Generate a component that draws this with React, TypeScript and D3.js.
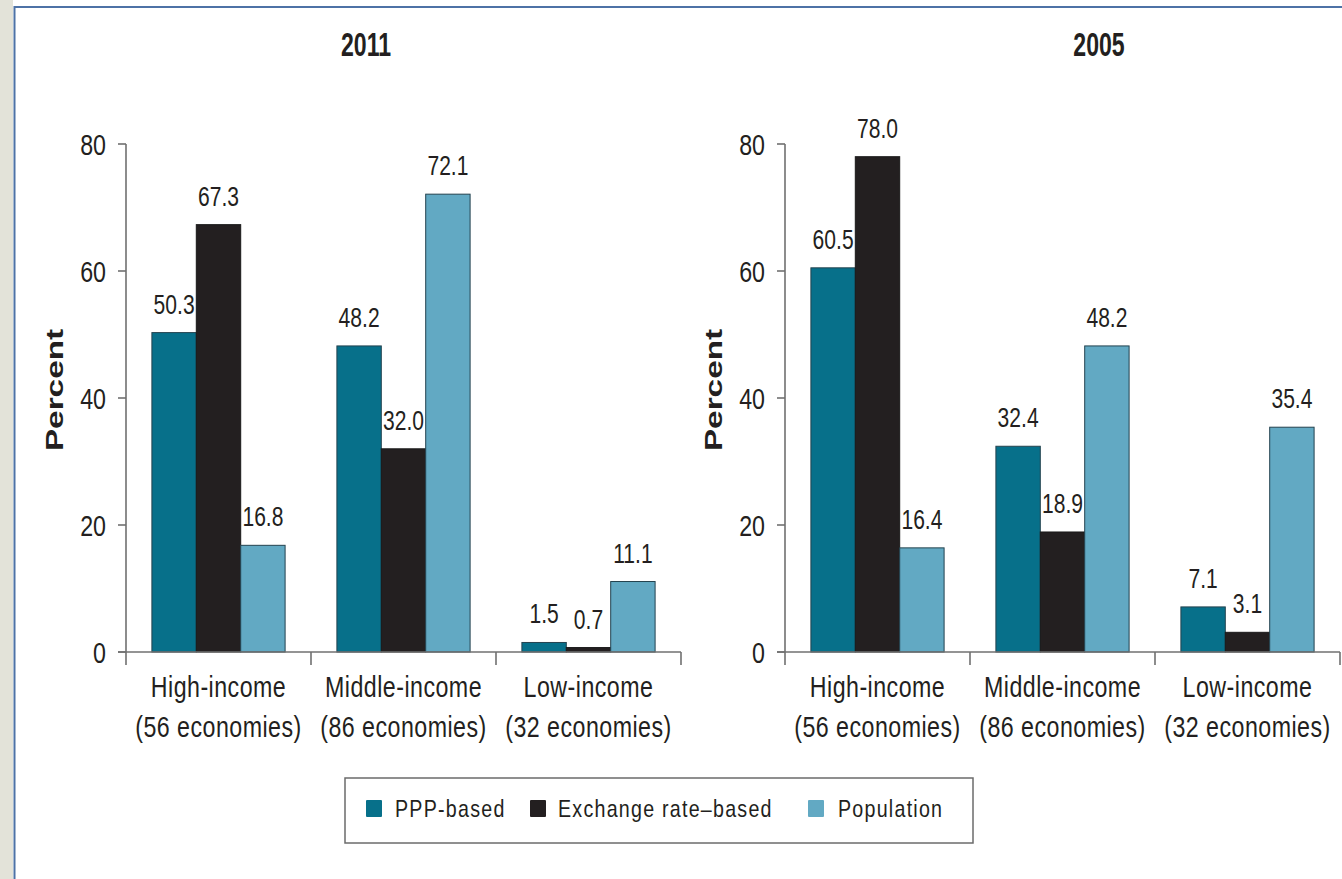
import React from "react";
import * as d3 from "d3";

const categories = ["High-income", "Middle-income", "Low-income"];
const categoryNotes = ["(56 economies)", "(86 economies)", "(32 economies)"];
const seriesNames = ["PPP-based", "Exchange rate–based", "Population"];
const ppp2011 = [50.3, 48.2, 1.5];
const exchange2011 = [67.3, 32.0, 0.7];
const population2011 = [16.8, 72.1, 11.1];
const ppp2005 = [60.5, 32.4, 7.1];
const exchange2005 = [78.0, 18.9, 3.1];
const population2005 = [16.4, 48.2, 35.4];
const yTicks = [0, 20, 40, 60, 80];
const panelTitles = ["2011", "2005"];
const yAxisTitle = "Percent";

const COLORS = ["#07708a", "#231f20", "#62a9c3"];
const FONT = "'Liberation Sans', Arial, sans-serif";
const W = 1342;
const H = 879;

type TProps = {
  x: number;
  y: number;
  size: number;
  sx?: number;
  weight?: string | number;
  anchor?: "start" | "middle" | "end";
  rotate?: number;
  fill?: string;
  ls?: number;
  children: React.ReactNode;
};

function T({ x, y, size, sx = 0.8, weight = "normal", anchor = "middle", rotate, fill = "#231f20", ls = 0, children }: TProps) {
  const tr = `translate(${x},${y})${rotate ? ` rotate(${rotate})` : ""} scale(${sx},1)`;
  return (
    <text
      transform={tr}
      fontFamily={FONT}
      fontSize={size}
      fontWeight={weight}
      textAnchor={anchor}
      fill={fill}
      letterSpacing={ls}
    >
      {children}
    </text>
  );
}

type PanelProps = {
  title: string;
  titleX: number;
  axisX: number;
  labelX: number;
  series: number[][];
};

function Panel({ title, titleX, axisX, labelX, series }: PanelProps) {
  const plotW = 555;
  const x0 = d3.scaleBand<string>().domain(categories).range([axisX, axisX + plotW]).paddingInner(0.28).paddingOuter(0.14);
  const x1 = d3.scaleBand<string>().domain(seriesNames).range([0, x0.bandwidth()]).padding(0);
  const y = d3.scaleLinear().domain([0, 80]).range([652, 144]);
  const axisColor = "#707070";
  const step = x0.step();
  const start = axisX;

  return (
    <g>
      <T x={titleX} y={56} size={33} weight="bold" sx={0.7}>{title}</T>
      <T x={labelX} y={390} size={23} weight="bold" rotate={-90} sx={1.45}>{yAxisTitle}</T>

      {/* bars */}
      {categories.map((c, ci) => (
        <g key={c}>
          {seriesNames.map((s, si) => {
            const v = series[si][ci];
            const bx = (x0(c) as number) + (x1(s) as number);
            const by = y(v);
            return (
              <rect
                key={s}
                x={bx}
                y={by}
                width={x1.bandwidth()}
                height={y(0) - by}
                fill={COLORS[si]}
                stroke={si === 1 ? "#1a1a1a" : "#24434f"}
                strokeWidth={1}
              />
            );
          })}
        </g>
      ))}

      {/* value labels */}
      {categories.map((c, ci) =>
        seriesNames.map((s, si) => {
          const v = series[si][ci];
          const cx = (x0(c) as number) + (x1(s) as number) + x1.bandwidth() / 2;
          return (
            <T key={c + s} x={cx} y={y(v) - 19} size={27} sx={0.78}>
              {v.toFixed(1)}
            </T>
          );
        })
      )}

      {/* y axis */}
      <line x1={axisX} x2={axisX} y1={y(80)} y2={y(0) + 13} stroke={axisColor} strokeWidth={1.6} />
      {yTicks.map((t) => (
        <g key={t}>
          <line x1={axisX - 8} x2={axisX} y1={y(t)} y2={y(t)} stroke={axisColor} strokeWidth={1.6} />
          <T x={axisX - 20} y={y(t) + 10.5} size={29} sx={0.8} anchor="end">{t}</T>
        </g>
      ))}

      {/* x axis */}
      <line x1={axisX - 8} x2={axisX + plotW} y1={y(0)} y2={y(0)} stroke={axisColor} strokeWidth={1.6} />
      {categories.map((c, i) => (
        <line key={c} x1={start + step * (i + 1)} x2={start + step * (i + 1)} y1={y(0)} y2={y(0) + 13} stroke={axisColor} strokeWidth={1.6} />
      ))}
      {categories.map((c, i) => {
        const cx = (x0(c) as number) + x0.bandwidth() / 2;
        return (
          <g key={c}>
            <T x={cx} y={697} size={29} sx={0.8} ls={0.6}>{c}</T>
            <T x={cx} y={737} size={29} sx={0.8} ls={0.6}>{categoryNotes[i]}</T>
          </g>
        );
      })}
    </g>
  );
}

export default function App() {
  const legendItems = [
    { name: seriesNames[0], sw: 366, tx: 395 },
    { name: seriesNames[1], sw: 530, tx: 558 },
    { name: seriesNames[2], sw: 808, tx: 838 },
  ];
  return (
    <svg
      width={W}
      height={H}
      viewBox={`0 0 ${W} ${H}`}
      style={{ position: "absolute", left: 0, top: 0, display: "block", background: "#ffffff" }}
    >
      <rect x={0} y={0} width={W} height={H} fill="#ffffff" />
      <rect x={0} y={0} width={13} height={H} fill="#e3e3d9" />
      <line x1={14.5} x2={14.5} y1={6} y2={H} stroke="#4d72a6" strokeWidth={2} />
      <line x1={14} x2={W} y1={7} y2={7} stroke="#4d72a6" strokeWidth={2} />

      <Panel title={panelTitles[0]} titleX={366} axisX={126} labelX={63} series={[ppp2011, exchange2011, population2011]} />
      <Panel title={panelTitles[1]} titleX={1099} axisX={785} labelX={722} series={[ppp2005, exchange2005, population2005]} />

      {/* legend */}
      <rect x={345} y={778} width={628} height={65} fill="#ffffff" stroke="#6b6b6b" strokeWidth={1.5} />
      {legendItems.map((it, i) => (
        <g key={it.name}>
          <rect x={it.sw} y={800} width={16} height={17} fill={COLORS[i]} rx={1} />
          <T x={it.tx} y={817} size={24} sx={0.82} anchor="start" ls={1.5}>{it.name}</T>
        </g>
      ))}
    </svg>
  );
}
